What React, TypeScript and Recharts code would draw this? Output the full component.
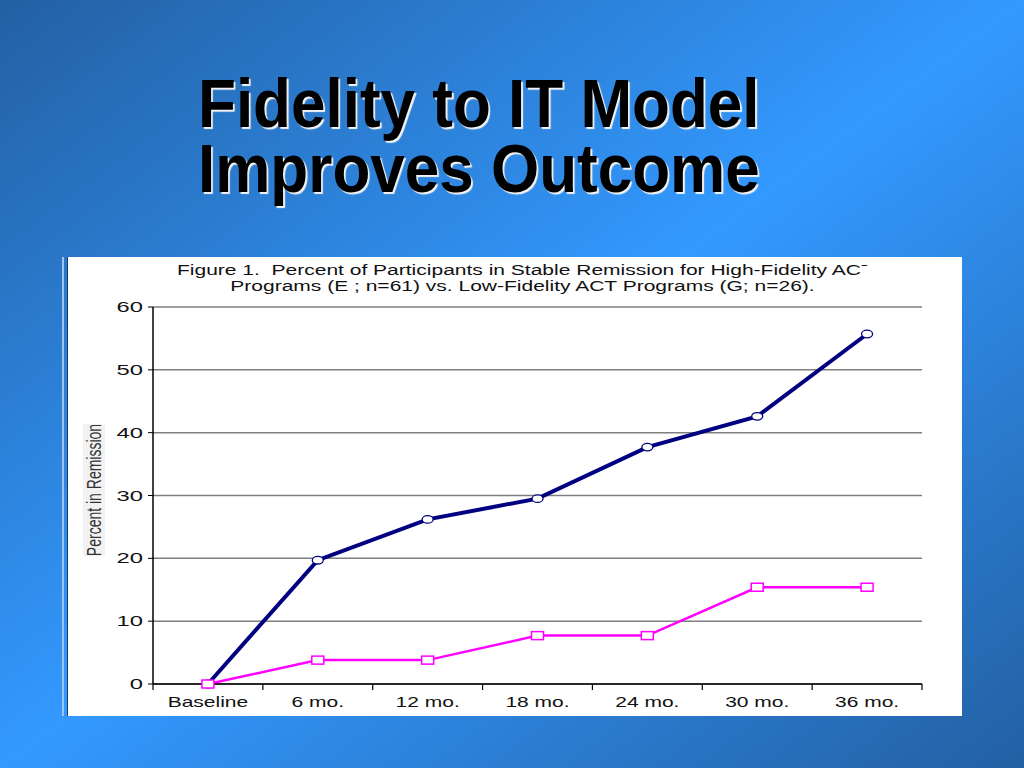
import React from "react";
import { LineChart, Line, XAxis, YAxis, CartesianGrid } from "recharts";

const months = ["Baseline", "6 mo.", "12 mo.", "18 mo.", "24 mo.", "30 mo.", "36 mo."];
const highFidelity = [0, 19.7, 26.2, 29.5, 37.7, 42.6, 55.7];
const lowFidelity = [0, 3.8, 3.8, 7.7, 7.7, 15.4, 15.4];
const yTicks = [0, 10, 20, 30, 40, 50, 60];

const data = months.map((m, i) => ({ month: m, high: highFidelity[i], low: lowFidelity[i] }));

const CHART_W = 895;
const CHART_H = 459;
const Y_W = 85;
const RIGHT = 41;
const PLOT_W = CHART_W - Y_W - RIGHT;
const STEP = PLOT_W / months.length;
const FONT = '"Liberation Sans", Arial, Helvetica, sans-serif';

const XTick = (props: any) => {
  const { x, y, payload, index } = props;
  return (
    <g>
      <line x1={x - STEP / 2} y1={y} x2={x - STEP / 2} y2={y + 6} stroke="#000" strokeWidth={1.2} />
      {index === months.length - 1 && (
        <line x1={x + STEP / 2} y1={y} x2={x + STEP / 2} y2={y + 6} stroke="#000" strokeWidth={1.2} />
      )}
      <text
        transform={`translate(${x},${y + 18}) scale(1.5,1)`}
        textAnchor="middle"
        dominantBaseline="central"
        fontSize={14}
        fontFamily={FONT}
        fill="#111"
      >
        {payload.value}
      </text>
    </g>
  );
};

const YTick = (props: any) => {
  const { x, y, payload } = props;
  return (
    <text
      transform={`translate(${x},${y}) scale(1.7,1)`}
      textAnchor="end"
      dominantBaseline="central"
      fontSize={14}
      fontFamily={FONT}
      fill="#111"
    >
      {payload.value}
    </text>
  );
};

const CircleDot = (props: any) => {
  const { cx, cy } = props;
  if (cx == null || cy == null) return null;
  return <ellipse cx={cx} cy={cy} rx={5.5} ry={3.8} fill="#fff" stroke="#000080" strokeWidth={1.3} />;
};

const SquareDot = (props: any) => {
  const { cx, cy } = props;
  if (cx == null || cy == null) return null;
  return <rect x={cx - 6} y={cy - 4} width={12} height={8} fill="#fff" stroke="#ff00ff" strokeWidth={1.5} />;
};

export default function App() {
  return (
    <div
      style={{
        position: "absolute",
        left: 0,
        top: 0,
        width: 1024,
        height: 768,
        overflow: "hidden",
        background: "linear-gradient(to bottom right, #2360a3 0%, #3399ff 50%, #2360a3 100%)",
        fontFamily: FONT,
      }}
    >
      <div
        style={{
          position: "absolute",
          left: 198,
          top: 71,
          fontSize: 68,
          lineHeight: "65px",
          fontWeight: "bold",
          color: "#000",
          whiteSpace: "pre",
          transform: "scaleX(0.912)",
          transformOrigin: "left top",
          textShadow: "2px 2px 1px #f4f4f4",
        }}
      >
        {"Fidelity to IT Model\nImproves Outcome"}
      </div>

      <div style={{ position: "absolute", left: 62, top: 257, width: 2, height: 459, background: "#9cc4ee" }} />
      <div
        style={{
          position: "absolute",
          left: 67,
          top: 257,
          width: CHART_W,
          height: CHART_H,
          background: "#fff",
          borderLeft: "1px solid #1c3c70",
          boxSizing: "border-box",
        }}
      >
        <LineChart
          width={CHART_W}
          height={CHART_H}
          data={data}
          margin={{ top: 50, right: RIGHT, bottom: 0, left: 0 }}
        >
          <CartesianGrid vertical={false} stroke="#7f7f7f" strokeWidth={1.5} />
          <XAxis
            dataKey="month"
            interval={0}
            height={32}
            tickSize={0}
            tickMargin={0}
            padding={{ left: STEP / 2, right: STEP / 2 }}
            tick={<XTick />}
            axisLine={{ stroke: "#000", strokeWidth: 1.5 }}
          />
          <YAxis
            width={Y_W}
            domain={[0, 60]}
            ticks={yTicks}
            tickSize={5}
            tickMargin={5}
            tick={<YTick />}
            tickLine={{ stroke: "#000" }}
            axisLine={{ stroke: "#000", strokeWidth: 1.5 }}
          />
          <YAxis
            yAxisId="r"
            orientation="right"
            width={0}
            domain={[0, 60]}
            tick={false}
            tickLine={false}
            axisLine={{ stroke: "#555", strokeWidth: 1.5 }}
          />
          <Line
            type="linear"
            dataKey="high"
            stroke="#000080"
            strokeWidth={4}
            dot={<CircleDot />}
            isAnimationActive={false}
          />
          <Line
            type="linear"
            dataKey="low"
            stroke="#ff00ff"
            strokeWidth={2.5}
            dot={<SquareDot />}
            isAnimationActive={false}
          />
        </LineChart>

        <div
          style={{
            position: "absolute",
            left: 7,
            top: 5,
            width: CHART_W,
            textAlign: "center",
            fontSize: 14,
            lineHeight: "16px",
            color: "#111",
            whiteSpace: "pre",
            transform: "scaleX(1.5)",
            transformOrigin: "center top",
          }}
        >
          {"Figure 1.  Percent of Participants in Stable Remission for High-Fidelity ACˉ\nPrograms (E ; n=61) vs. Low-Fidelity ACT Programs (G; n=26)."}
        </div>

        <div
          style={{
            position: "absolute",
            left: 26,
            top: 233,
            transform: "translate(-50%, -50%) rotate(-90deg) scale(1, 1.4)",
            fontSize: 14,
            color: "#333",
            whiteSpace: "nowrap",
            background: "#f2f2f2",
          }}
        >
          Percent in Remission
        </div>
      </div>
    </div>
  );
}
